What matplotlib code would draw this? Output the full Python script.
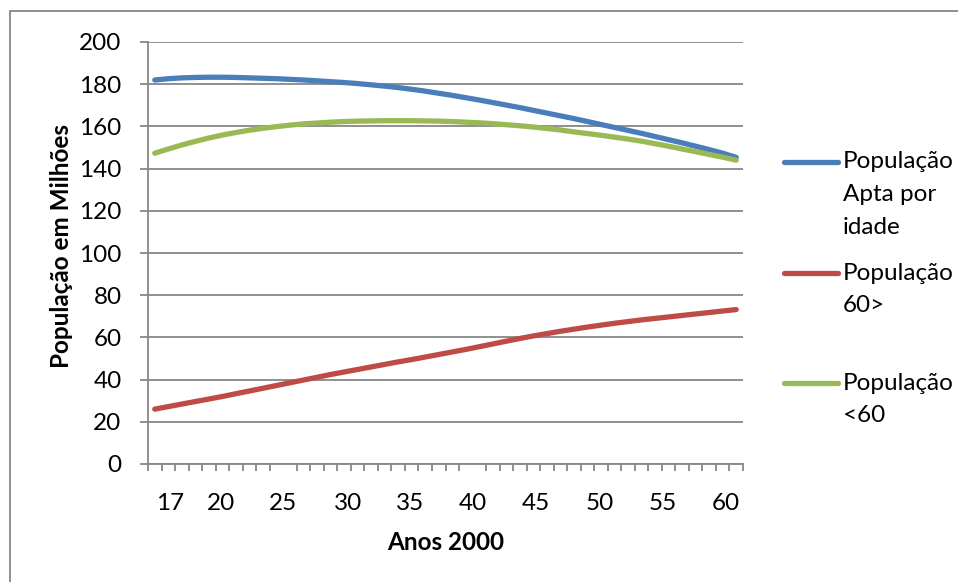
import matplotlib
matplotlib.use("Agg")
import matplotlib.pyplot as plt
from matplotlib.lines import Line2D
from matplotlib.patches import Rectangle
import numpy as np

plt.rcParams['font.family'] = ['Lato', 'DejaVu Sans']

years = list(range(2017, 2061))

apta = [182.0, 182.6, 183.0, 183.2, 183.3, 183.3, 183.2, 183.0, 182.8, 182.6,
        182.3, 182.0, 181.6, 181.2, 180.8, 180.3, 179.7, 179.1, 178.4, 177.6,
        176.7, 175.7, 174.7, 173.6, 172.5, 171.3, 170.1, 168.9, 167.6, 166.3,
        165.0, 163.7, 162.3, 160.9, 159.5, 158.1, 156.7, 155.2, 153.7, 152.2,
        150.6, 149.0, 147.3, 145.3]

pop60mais = [26.0, 27.2, 28.4, 29.6, 30.8, 32.0, 33.3, 34.6, 35.9, 37.2,
             38.5, 39.8, 41.1, 42.4, 43.6, 44.8, 46.0, 47.2, 48.4, 49.5,
             50.7, 51.9, 53.1, 54.3, 55.6, 56.9, 58.2, 59.5, 60.7, 61.8,
             62.9, 63.9, 64.9, 65.8, 66.7, 67.5, 68.3, 69.0, 69.7, 70.4,
             71.1, 71.8, 72.5, 73.2]

pop60menos = [147.3, 149.3, 151.2, 152.9, 154.5, 155.9, 157.1, 158.2, 159.1, 159.9,
              160.6, 161.2, 161.6, 162.0, 162.3, 162.5, 162.6, 162.7, 162.7, 162.7,
              162.6, 162.5, 162.3, 162.0, 161.7, 161.3, 160.8, 160.3, 159.7, 159.0,
              158.3, 157.4, 156.6, 155.8, 154.9, 154.0, 153.0, 151.8, 150.6, 149.3,
              148.0, 146.7, 145.4, 144.0]

series_labels = ["População\nApta por\nidade", "População\n60>", "População\n<60"]
series_colors = ["#4A7EBB", "#BE4B48", "#98B954"]

x_tick_labels = ["17", "20", "25", "30", "35", "40", "45", "50", "55", "60"]
x_tick_pos = [2018.1, 2021.9, 2026.5, 2031.3, 2035.9, 2040.5, 2045.2, 2049.9, 2054.6, 2059.2]
y_ticks = list(range(0, 201, 20))

FS = 17.5
W, H = 958, 582
fig = plt.figure(figsize=(W / 100, H / 100), dpi=100)
L, R, T, B = 148, 743, 42, 464
ax = fig.add_axes([L / W, 1 - B / H, (R - L) / W, (B - T) / H])

grid_c = "#878787"
for vals, c in zip([apta, pop60mais, pop60menos], series_colors):
    ax.plot(years, vals, color=c, lw=3.8, solid_capstyle='round', zorder=3)

ax.set_xlim(2016.5, 2060.5)
ax.set_ylim(0, 200)
ax.set_yticks(y_ticks)
ax.yaxis.grid(True, color=grid_c, lw=1.3)
ax.set_axisbelow(True)
for s in ['top', 'right']:
    ax.spines[s].set_visible(False)
for s in ['left', 'bottom']:
    ax.spines[s].set_color(grid_c)
    ax.spines[s].set_linewidth(1.3)

ax.set_xticks(x_tick_pos)
ax.set_xticklabels(x_tick_labels)
ax.set_xticks(np.arange(2016.5, 2061, 1.0), minor=True)
ax.tick_params(axis='x', which='major', length=0, pad=21, labelsize=FS, colors='black')
ax.tick_params(axis='x', which='minor', length=5, width=1.3, color=grid_c, direction='out')
ax.tick_params(axis='y', which='major', length=6, width=1.3, color=grid_c, pad=13,
               labelsize=FS, labelcolor='black')

ax.set_xlabel("Anos 2000", fontsize=FS, fontweight='bold')
ax.set_ylabel("População em Milhões", fontsize=FS, fontweight='bold')
ax.xaxis.label.set_va('center')
ax.yaxis.label.set_va('center')
ax.xaxis.set_label_coords((446 - L) / (R - L), (B - 543) / (B - T))
ax.yaxis.set_label_coords((62 - L) / (R - L), (B - 246) / (B - T))

# legend (manual, Excel-style with handle on first text line)
leg_y = [162, 273, 383]
line_step = 33
for lab, c, yy in zip(series_labels, series_colors, leg_y):
    fig.add_artist(Line2D([784 / W, 838 / W], [1 - yy / H, 1 - yy / H], color=c, lw=3.8,
                          solid_capstyle='round', transform=fig.transFigure))
    for k, part in enumerate(lab.split("\n")):
        fig.text(843 / W, 1 - (yy + k * line_step) / H, part, fontsize=FS,
                 va='center', ha='left')

# chart border
fig.add_artist(Rectangle((10 / W, -0.05), 1.1, 1 - 11 / H + 0.05, fill=False,
                         edgecolor=grid_c, lw=1.3, transform=fig.transFigure))

fig.savefig("out.png", dpi=100)
